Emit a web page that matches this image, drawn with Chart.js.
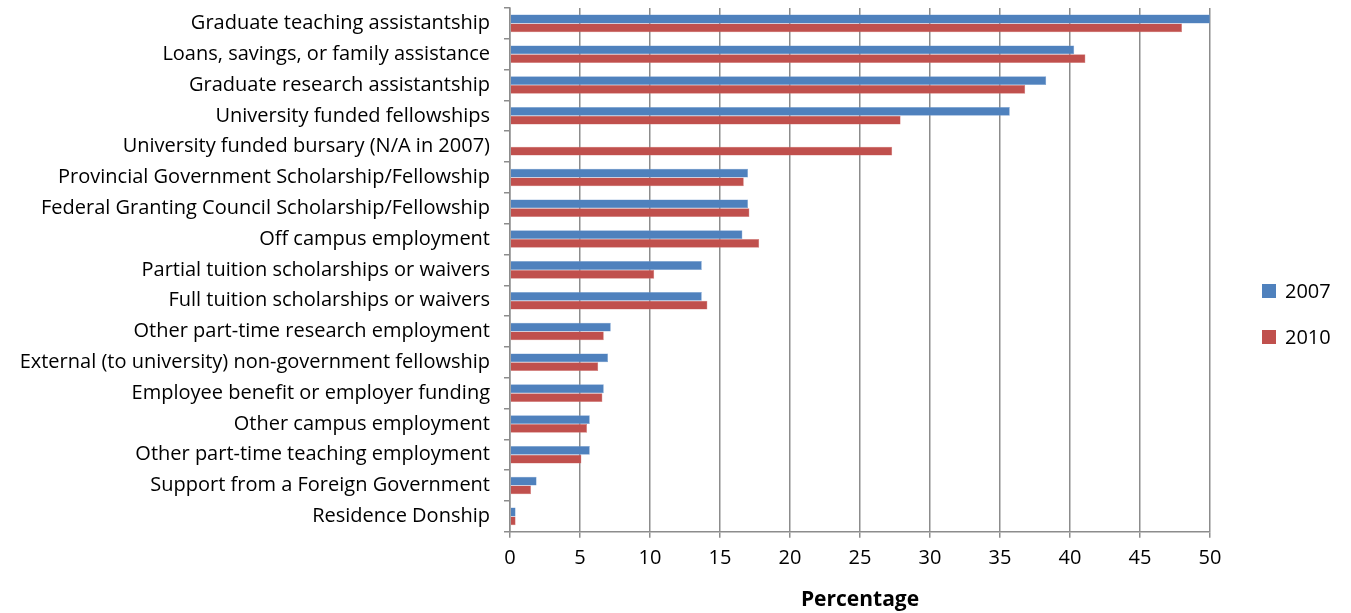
<!DOCTYPE html>
<html>
<head>
<meta charset="utf-8">
<script src="https://cdn.jsdelivr.net/npm/chart.js@4"></script>
<style>
  html, body { margin: 0; padding: 0; background: #fff; }
  #wrap { width: 1351px; height: 613px; }
</style>
</head>
<body>
<div id="wrap"><canvas id="chart"></canvas></div>
<script>
// Sources of funding, share of students (%)
const categories = [
  'Graduate teaching assistantship',
  'Loans, savings, or family assistance',
  'Graduate research assistantship',
  'University funded fellowships',
  'University funded bursary (N/A in 2007)',
  'Provincial Government Scholarship/Fellowship',
  'Federal Granting Council Scholarship/Fellowship',
  'Off campus employment',
  'Partial tuition scholarships or waivers',
  'Full tuition scholarships or waivers',
  'Other part-time research employment',
  'External (to university) non-government fellowship',
  'Employee benefit or employer funding',
  'Other campus employment',
  'Other part-time teaching employment',
  'Support from a Foreign Government',
  'Residence Donship'
];

const values2007 = [50, 40.3, 38.3, 35.7, null, 17.0, 17.0, 16.6, 13.7, 13.7, 7.2, 7.0, 6.7, 5.7, 5.7, 1.9, 0.4];
const values2010 = [48.0, 41.1, 36.8, 27.9, 27.3, 16.7, 17.1, 17.8, 10.3, 14.1, 6.7, 6.3, 6.6, 5.5, 5.1, 1.5, 0.4];

const xTicks = [0, 5, 10, 15, 20, 25, 30, 35, 40, 45, 50];

const font = 'Open Sans';
const gridColor = '#8c8c8c';

// legend drawn by hand, stacked on the right like the original
const sideLegend = {
  id: 'sideLegend',
  afterDraw(chart) {
    const ctx = chart.ctx;
    const x = chart.chartArea.right + 52;
    ctx.save();
    ctx.font = '20px "' + font + '"';
    ctx.textBaseline = 'middle';
    chart.data.datasets.forEach((ds, i) => {
      const y = 291 + i * 46;
      ctx.fillStyle = ds.backgroundColor;
      ctx.fillRect(x, y - 7, 14, 14);
      ctx.fillStyle = '#000';
      ctx.fillText(ds.label, x + 23, y + 1);
    });
    ctx.restore();
  }
};

new Chart(document.getElementById('chart'), {
  type: 'bar',
  data: {
    labels: categories,
    datasets: [{
      label: '2007',
      data: values2007,
      backgroundColor: '#4f81bd',
      borderColor: '#7aa1d2',
      borderWidth: 0.5
    }, {
      label: '2010',
      data: values2010,
      backgroundColor: '#c0504d',
      borderColor: '#d47b78',
      borderWidth: 0.5
    }]
  },
  plugins: [sideLegend],
  options: {
    indexAxis: 'y',
    responsive: true,
    maintainAspectRatio: false,
    animation: false,
    datasets: {
      bar: { categoryPercentage: 0.57, barPercentage: 1.0 }
    },
    layout: { padding: { top: 8, right: 141, bottom: 0, left: 0 } },
    plugins: {
      tooltip: { enabled: false },
      legend: { display: false }
    },
    scales: {
      x: {
        min: 0,
        max: 50,
        afterBuildTicks: axis => { axis.ticks = xTicks.map(v => ({ value: v })); },
        grid: { color: gridColor, lineWidth: 1.5, tickLength: 6 },
        border: { color: gridColor, width: 1.5 },
        ticks: { font: { family: font, size: 20 }, color: '#000', padding: 8 },
        title: {
          display: true,
          text: 'Percentage',
          font: { family: font, size: 21, weight: 'bold' },
          color: '#000',
          padding: { top: 10, bottom: 0 }
        }
      },
      y: {
        afterFit: scale => {
          scale.width = 510;
          scale.paddingTop = 0;
          scale.paddingBottom = 0;
        },
        grid: { drawOnChartArea: false, color: gridColor, lineWidth: 1.5, tickLength: 6 },
        border: { color: gridColor, width: 1.5 },
        ticks: { font: { family: font, size: 20 }, color: '#000', padding: 14, autoSkip: false }
      }
    }
  }
});
</script>
</body>
</html>
